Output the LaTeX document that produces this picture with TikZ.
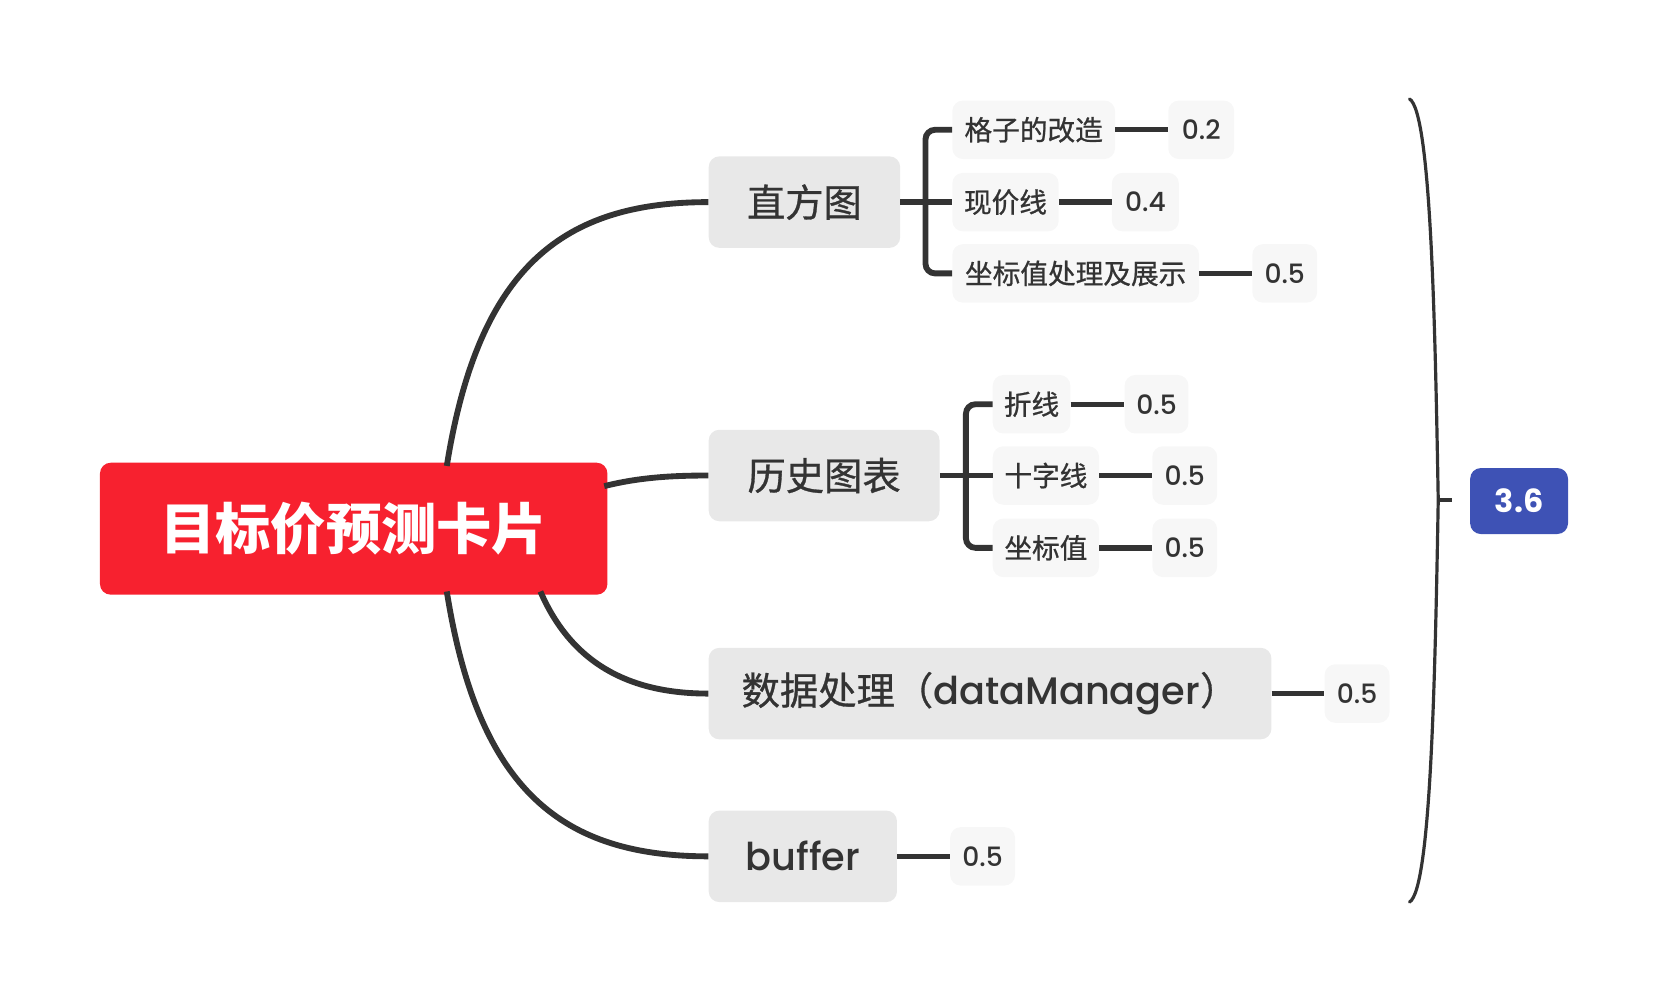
\documentclass[tikz,border=0pt]{standalone}
\usepackage{fontspec}
\setmainfont{Noto Sans CJK SC}[UprightFeatures={FakeBold=0.8}]
\newfontfamily\lat{Poppins}[UprightFont={* Medium}, BoldFont={* Bold}]
\definecolor{rootred}{HTML}{F7212F}
\definecolor{totblue}{HTML}{3E52B5}
\definecolor{lonefill}{HTML}{E8E8E8}
\definecolor{ltwofill}{HTML}{F7F7F7}
\definecolor{ink}{HTML}{333333}
\tikzset{
  rootbox/.style={fill=rootred, rounded corners=10, text=white, minimum height=124,
    font=\fontsize{52}{56}\selectfont\bfseries, inner sep=0},
  lonebox/.style={fill=lonefill, rounded corners=10, text=ink, minimum height=86,
    font=\fontsize{36}{40}\selectfont, anchor=west, inner sep=0},
  ltwobox/.style={fill=ltwofill, rounded corners=10, text=ink, minimum height=55,
    font=\fontsize{26}{30}\selectfont, anchor=west, inner sep=0},
  valbox/.style={ltwobox, font=\fontsize{25}{30}\selectfont\lat},
  totbox/.style={fill=totblue, rounded corners=10, text=white, minimum width=92, minimum height=62,
    font=\fontsize{30}{34}\selectfont\lat\bfseries, inner sep=0},
  conn/.style={draw=ink, line width=5.5},
  brline/.style={draw=ink, line width=5.5, rounded corners=9},
  valline/.style={draw=ink, line width=5},
  braceline/.style={draw=ink, line width=3, line cap=round},
}
\begin{document}
\begin{tikzpicture}[x=1pt,y=-1pt]
\useasboundingbox (0,0) rectangle (1568,942);

% connector end points on the root
\coordinate (rt) at (420,438);
\coordinate (rr) at (568,457);
\coordinate (rb) at (420,556);
\coordinate (rd) at (508,556);

% root
\node[rootbox, minimum width=477] (root) at (332.5,497) {目标价预测卡片};

% level 1
\node[lonebox, minimum width=180] (h) at (666,190) {直方图};
\node[lonebox, minimum width=217] (hs) at (666,447) {历史图表};
\node[lonebox, minimum width=529] (dm) at (666,652) {数据处理（{\lat dataManager}）};
\node[lonebox, minimum width=177] (bf) at (666,805) {{\lat buffer}};

\draw[conn] (rt) .. controls (450,250) and (530,190) .. (h.west);
\draw[conn] (rr) .. controls (600,449) and (630,447) .. (hs.west);
\draw[conn] (rd) .. controls (540,630) and (600,652) .. (dm.west);
\draw[conn] (rb) .. controls (450,745) and (530,805) .. (bf.west);

% level 2 under 直方图
\node[ltwobox, minimum width=153] (a1) at (895,122) {格子的改造};
\node[ltwobox, minimum width=100] (a2) at (895,190) {现价线};
\node[ltwobox, minimum width=232] (a3) at (895,257) {坐标值处理及展示};
\node[valbox, minimum width=62] (v1) at (1098,122) {0.2};
\node[valbox, minimum width=63] (v2) at (1045,190) {0.4};
\node[valbox, minimum width=61] (v3) at (1177,257) {0.5};

\coordinate (hsp) at (870,190);
\draw[conn] (h.east) -- (a2.west);
\draw[brline] (a1.west) -- (hsp |- a1.west) -- (hsp |- a3.west) -- (a3.west);
\draw[valline] (a1.east) -- (v1.west);
\draw[valline] (a2.east) -- (v2.west);
\draw[valline] (a3.east) -- (v3.west);

% level 2 under 历史图表
\node[ltwobox, minimum width=73] (b1) at (933,380) {折线};
\node[ltwobox, minimum width=100] (b2) at (933,447) {十字线};
\node[ltwobox, minimum width=100] (b3) at (933,515) {坐标值};
\node[valbox, minimum width=60] (w1) at (1057,380) {0.5};
\node[valbox, minimum width=61] (w2) at (1083,447) {0.5};
\node[valbox, minimum width=61] (w3) at (1083,515) {0.5};

\coordinate (hssp) at (908,447);
\draw[conn] (hs.east) -- (b2.west);
\draw[brline] (b1.west) -- (hssp |- b1.west) -- (hssp |- b3.west) -- (b3.west);
\draw[valline] (b1.east) -- (w1.west);
\draw[valline] (b2.east) -- (w2.west);
\draw[valline] (b3.east) -- (w3.west);

% values of 数据处理 and buffer
\node[valbox, minimum width=61] (v4) at (1245,652) {0.5};
\node[valbox, minimum width=61] (v5) at (893,805) {0.5};
\draw[valline] (dm.east) -- (v4.west);
\draw[valline] (bf.east) -- (v5.west);

% summary brace
\coordinate (bt) at (1325,93);
\coordinate (bm) at (1352,470);
\coordinate (bb) at (1325,848);
\coordinate (bk) at (1365,470);
\draw[braceline] (bt) .. controls (1345,105) and (1349,300) .. (bm) .. controls (1349,640) and (1345,836) .. (bb);
\draw[draw=ink, line width=3.5] (bm) -- (bk);

\node[totbox] (tot) at (1428,471) {3.6};
\end{tikzpicture}
\end{document}
